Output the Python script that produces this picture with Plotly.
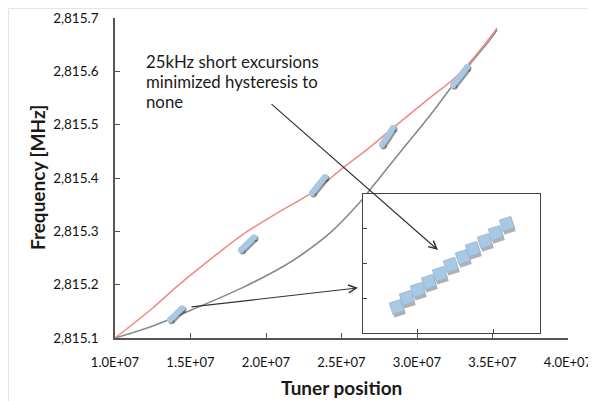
import plotly.graph_objects as go

# ---------------- data ----------------
# red trace (tuner position, frequency MHz)
red_x = [1.000e7, 1.232e7, 1.424e7, 1.629e7, 1.841e7, 2.073e7, 2.311e7, 2.510e7,
         2.689e7, 2.841e7, 3.066e7, 3.285e7, 3.530e7]
red_y = [2815.100, 2815.152, 2815.200, 2815.247, 2815.293, 2815.334, 2815.374, 2815.419,
         2815.458, 2815.494, 2815.546, 2815.597, 2815.681]

# gray trace
gray_x = [1.000e7, 1.265e7, 1.510e7, 1.841e7, 2.113e7, 2.245e7, 2.424e7, 2.623e7,
          2.689e7, 2.887e7, 3.066e7, 3.232e7, 3.351e7, 3.483e7, 3.530e7]
gray_y = [2815.100, 2815.124, 2815.153, 2815.194, 2815.234, 2815.258, 2815.297, 2815.355,
          2815.378, 2815.448, 2815.510, 2815.572, 2815.614, 2815.659, 2815.678]

# short 25 kHz excursions (start/end)
exc_x0 = [1.364e7, 1.834e7, 2.305e7, 2.768e7, 3.238e7]
exc_x1 = [1.444e7, 1.921e7, 2.391e7, 2.841e7, 3.331e7]
exc_y0 = [2815.134, 2815.265, 2815.372, 2815.462, 2815.574]
exc_y1 = [2815.156, 2815.289, 2815.402, 2815.494, 2815.608]

# inset: zoom of one excursion (arbitrary units)
inset_x = [-0.272, -0.141, 0.004, 0.149, 0.294, 0.438, 0.596, 0.728, 0.886, 1.031, 1.176]
inset_y = [0.748, 1.007, 1.237, 1.468, 1.698, 1.957, 2.187, 2.417, 2.647, 2.878, 3.137]

x_ticks = [1.0e7, 1.5e7, 2.0e7, 2.5e7, 3.0e7, 3.5e7, 4.0e7]
x_tick_labels = ["1.0E+07", "1.5E+07", "2.0E+07", "2.5E+07", "3.0E+07", "3.5E+07", "4.0E+07"]

callout_lines = ["25kHz short excursions", "minimized hysteresis to", "none"]

# ---------------- figure ----------------
FONT = "Lato, 'Open Sans', sans-serif"
BLUE = "#a8c8e4"
fig = go.Figure()

fig.add_trace(go.Scatter(x=gray_x, y=gray_y, mode="lines",
                         line=dict(color="#8a8a8a", width=1.6, shape="spline", smoothing=1.0),
                         hoverinfo="skip"))
fig.add_trace(go.Scatter(x=red_x, y=red_y, mode="lines",
                         line=dict(color="#f08a80", width=1.5, shape="spline", smoothing=1.0),
                         hoverinfo="skip"))

# excursions: shadow then blue capsule
px_x = 3e7 / 453.0
px_y = 0.6 / 320.0
for i in range(len(exc_x0)):
    xs = [exc_x0[i], exc_x1[i]]
    ys = [exc_y0[i], exc_y1[i]]
    fig.add_trace(go.Scatter(x=[v + 1.5 * px_x for v in xs], y=[v - 1.5 * px_y for v in ys],
                             mode="lines+markers",
                             line=dict(color="rgba(60,60,60,0.55)", width=6),
                             marker=dict(size=6, color="rgba(60,60,60,0.55)", line=dict(width=0)),
                             hoverinfo="skip"))
    fig.add_trace(go.Scatter(x=xs, y=ys, mode="lines+markers",
                             line=dict(color=BLUE, width=6),
                             marker=dict(size=6, color=BLUE, line=dict(width=0)),
                             hoverinfo="skip"))

# inset squares
fig.add_trace(go.Scatter(x=[v + 0.018 for v in inset_x], y=[v - 0.09 for v in inset_y],
                         mode="markers", xaxis="x2", yaxis="y2",
                         marker=dict(symbol="square", size=12, angle=-18,
                                     color="rgba(80,80,80,0.45)", line=dict(width=0)),
                         hoverinfo="skip"))
fig.add_trace(go.Scatter(x=inset_x, y=inset_y, mode="markers", xaxis="x2", yaxis="y2",
                         marker=dict(symbol="square", size=12, angle=-18,
                                     color=BLUE, line=dict(width=0.8, color="#93b4d0")),
                         hoverinfo="skip"))

axis_color = "#555555"
fig.update_layout(
    width=588, height=393,
    margin=dict(l=107, r=28, t=10, b=63, autoexpand=False),
    paper_bgcolor="white", plot_bgcolor="white",
    showlegend=False,
    font=dict(family=FONT, size=13, color="#111111"),
    xaxis=dict(range=[1.0e7, 4.0e7], tickvals=x_ticks, ticktext=x_tick_labels,
               automargin=False,
               showgrid=False, zeroline=False, showline=True, linecolor=axis_color,
               linewidth=1.5, ticks="inside", ticklen=5, tickcolor=axis_color,
               ticklabelstandoff=12, tickfont=dict(family=FONT, size=13, color="#111111")),
    yaxis=dict(range=[2815.1, 2815.7], dtick=0.1, tick0=2815.1, tickformat=",.1f",
               automargin=False,
               showgrid=False, zeroline=False, showline=True, linecolor=axis_color,
               linewidth=1.5, ticks="inside", ticklen=5, tickcolor=axis_color,
               ticklabelstandoff=12, tickfont=dict(family=FONT, size=13.5, color="#111111")),
    xaxis2=dict(domain=[0.547, 0.938], anchor="y2", range=[-0.72, 1.61], automargin=False,
                tickvals=[0, 1], showticklabels=False, ticks="inside", ticklen=4,
                tickcolor="#444", showgrid=False, zeroline=False, showline=True,
                mirror=True, linecolor="#444", linewidth=1.3),
    yaxis2=dict(domain=[0.016, 0.45], anchor="x2", range=[0, 4], automargin=False,
                tickvals=[1, 2, 3], showticklabels=False, ticks="inside", ticklen=4,
                tickcolor="#444", showgrid=False, zeroline=False, showline=True,
                mirror=True, linecolor="#444", linewidth=1.3),
)

# white background of inset
fig.add_shape(type="rect", xref="x2 domain", yref="y2 domain", x0=0, x1=1, y0=0, y1=1,
              fillcolor="white", line=dict(width=0), layer="below")
# faint outer chart frame (left and top edges)
fig.add_shape(type="line", xref="paper", yref="paper", x0=-0.235, x1=-0.235, y0=-0.25, y1=1.0297,
              line=dict(color="#e4e4e4", width=1), layer="below")
fig.add_shape(type="line", xref="paper", yref="paper", x0=-0.235, x1=1.1, y0=1.0297, y1=1.0297,
              line=dict(color="#e4e4e4", width=1), layer="below")

# axis titles
fig.add_annotation(text="<b>Frequency [MHz]</b>", xref="paper", yref="paper",
                   x=-0.172, y=0.5, xanchor="center", yanchor="middle",
                   textangle=-90, showarrow=False,
                   font=dict(family=FONT, size=19, color="#1a1a1a"))
fig.add_annotation(text="<b>Tuner position</b>", xref="paper", yref="paper",
                   x=0.501, y=-0.156, xanchor="center", yanchor="middle", showarrow=False,
                   font=dict(family=FONT, size=19, color="#1a1a1a"))

# callout text, one line per annotation to control spacing
for i, line in enumerate(callout_lines):
    fig.add_annotation(text=line, xref="paper", yref="paper",
                       x=0.064, y=0.8625 - 0.0625 * i, xanchor="left", yanchor="middle",
                       align="left", showarrow=False,
                       font=dict(family=FONT, size=16.8, color="#1a1a1a"))

# arrows
fig.add_annotation(x=3.139e7, y=2815.265, ax=2.0265e7, ay=2815.541, xref="x", yref="y",
                   axref="x", ayref="y", text="", showarrow=True, arrowhead=5,
                   arrowsize=1.3, arrowwidth=1.2, arrowcolor="#333333")
fig.add_annotation(x=2.609e7, y=2815.194, ax=1.497e7, ay=2815.158, xref="x", yref="y",
                   axref="x", ayref="y", text="", showarrow=True, arrowhead=5,
                   arrowsize=1.3, arrowwidth=1.2, arrowcolor="#333333")

fig.write_html("out.html")
